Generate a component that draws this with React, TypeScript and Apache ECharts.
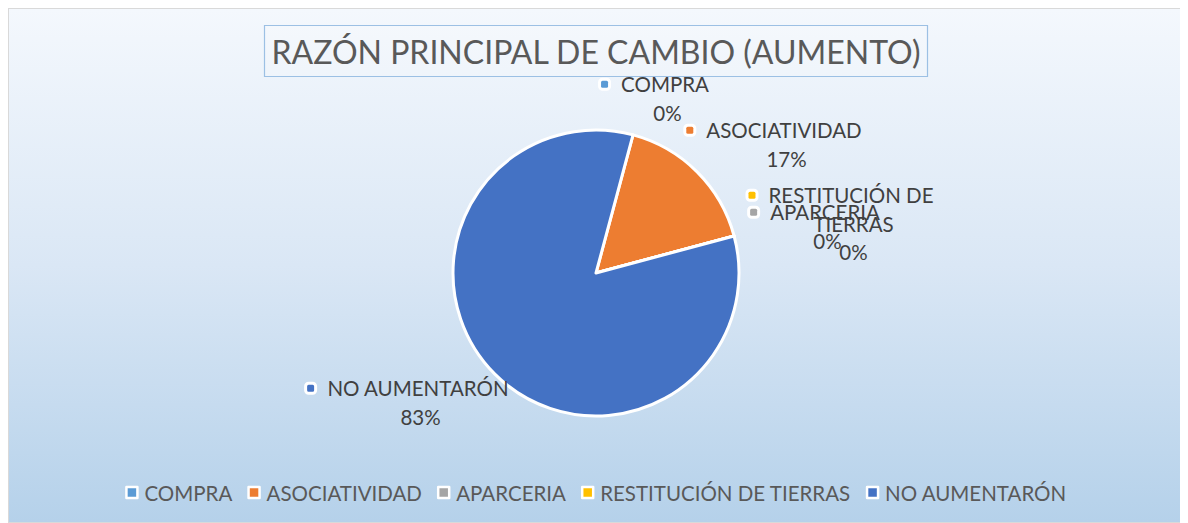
import React, { useEffect, useRef } from "react";
import * as echarts from "echarts";

const titleText = "RAZÓN PRINCIPAL DE CAMBIO (AUMENTO)";
const categories = ["COMPRA", "ASOCIATIVIDAD", "APARCERIA", "RESTITUCIÓN DE TIERRAS", "NO AUMENTARÓN"];
const labelNames = ["COMPRA", "ASOCIATIVIDAD", "APARCERIA", "RESTITUCIÓN DE\nTIERRAS", "NO AUMENTARÓN"];
const values = [0, 1, 0, 0, 5];
const colors = ["#5b9bd5", "#ed7d31", "#a5a5a5", "#ffc000", "#4472c4"];

// label anchor positions (center x, top y) in chart coordinates
const labelPos: [number, number][] = [
  [646, 61],
  [765, 107],
  [806, 189],
  [832, 172],
  [399, 365],
];

const FONT = "Lato, 'Open Sans', sans-serif";

export default function App() {
  const ref = useRef<HTMLDivElement>(null);
  useEffect(() => {
    if (!ref.current) return;
    const chart = echarts.init(ref.current, null, { renderer: "svg" });
    const data = categories.map((c, i) => ({
      name: c,
      value: values[i],
      itemStyle: { color: colors[i] },
    }));
    const rich: any = {
      n: { fontSize: 20.5, color: "#404040", fontFamily: FONT, lineHeight: 28.5 },
      p: { fontSize: 20.5, color: "#404040", fontFamily: FONT, lineHeight: 28.5 },
      e: { width: 25, height: 10 },
      g: { width: 13 },
    };
    colors.forEach((c, i) => {
      rich["k" + i] = {
        width: 7,
        height: 7,
        backgroundColor: c,
        borderColor: "#ffffff",
        borderWidth: 3,
        borderRadius: 1.5,
      };
    });
    chart.setOption({
      animation: false,
      backgroundColor: {
        type: "linear",
        x: 0,
        y: 0,
        x2: 0,
        y2: 1,
        colorStops: [
          { offset: 0, color: "#f4f8fd" },
          { offset: 0.5, color: "#dae7f5" },
          { offset: 1, color: "#b5d1ea" },
        ],
      },
      title: {
        text: titleText,
        left: "center",
        top: 16,
        padding: [6, 7, 5, 7],
        borderColor: "#9cc0e4",
        borderWidth: 1.2,
        backgroundColor: "rgba(255,255,255,0.15)",
        textStyle: {
          fontFamily: FONT,
          fontSize: 32,
          fontWeight: "normal",
          color: "#595959",
          lineHeight: 41,
        },
      },
      legend: {
        left: "center",
        top: 468,
        icon: "rect",
        itemWidth: 11,
        itemHeight: 11,
        itemGap: 15,
        textStyle: { fontFamily: FONT, fontSize: 20.5, color: "#595959", padding: [0, 0, 0, 2] },
        itemStyle: { borderColor: "#ffffff", borderWidth: 2.5 },
        data: categories,
      },
      series: [
        {
          type: "pie",
          center: ["50%", 264],
          radius: 143,
          startAngle: 75,
          clockwise: true,
          minShowLabelAngle: 0,
          itemStyle: { borderColor: "#ffffff", borderWidth: 3 },
          labelLine: { show: false },
          label: {
            show: true,
            position: "outside",
            formatter: (p: any) => {
              const i = p.dataIndex;
              const lines = labelNames[i].split("\n");
              const out = lines.map((l, j) =>
                j === 0 ? `{k${i}|}{g|}{n|${l}}` : `{e|}{n|${l}}`
              );
              out.push(`{e|}{p|${Math.round(p.percent)}%}`);
              return out.join("\n");
            },
            rich,
          },
          labelLayout: (params: any) => {
            const pos = labelPos[params.dataIndex];
            return {
              x: pos[0],
              y: pos[1],
              align: "center",
              verticalAlign: "top",
              hideOverlap: false,
            };
          },
          data,
        },
      ],
    });
    return () => chart.dispose();
  }, []);
  return (
    <div
      ref={ref}
      style={{ width: 1176, height: 515, border: "1px solid #d9d9d9", boxSizing: "border-box" }}
    />
  );
}
